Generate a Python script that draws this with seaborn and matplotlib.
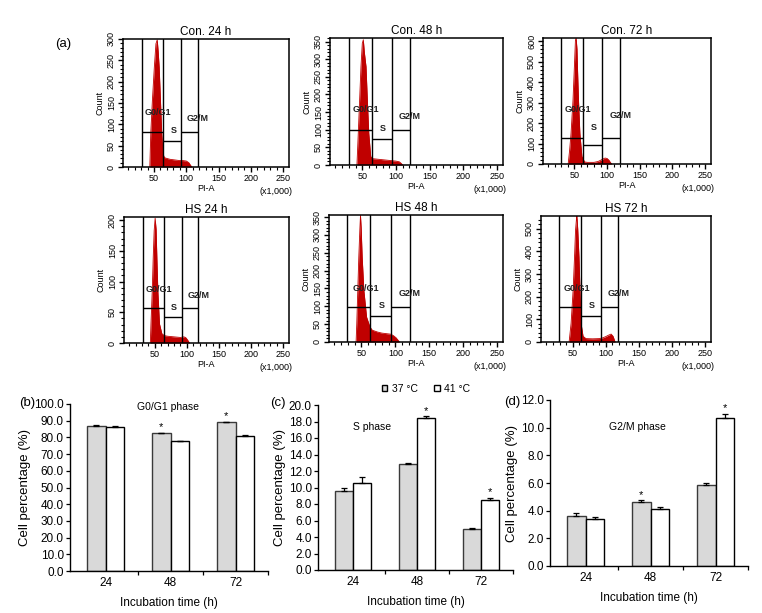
import numpy as np
import pandas as pd
import matplotlib
matplotlib.use("Agg")
import matplotlib.pyplot as plt
from matplotlib.ticker import MultipleLocator, FormatStrFormatter
from matplotlib.patches import Patch
import seaborn as sns

# ---------------- histogram data (PI-A x1,000 vs count) ----------------
hist_titles = ["Con. 24 h", "Con. 48 h", "Con. 72 h", "HS 24 h", "HS 48 h", "HS 72 h"]

pi_con24 = [43.5, 45, 47.5, 50.5, 53, 55, 56.5, 58, 60, 62, 64, 66, 70, 75, 80, 85, 90, 95, 100, 104, 107, 109]
cnt_con24 = [0, 80, 156, 234, 289, 298, 270, 234, 156, 78, 31, 22, 20, 18, 17, 16, 15, 15, 14, 10, 3, 0]

pi_con48 = [42, 44, 46, 48, 50, 51.5, 53, 55.5, 57.5, 59.6, 62.5, 65, 70, 80, 90, 100, 105, 108, 110]
cnt_con48 = [0, 90, 184, 279, 345, 355, 320, 279, 184, 90, 24, 18, 17, 15, 13, 11, 9, 4, 0]

pi_con72 = [40.5, 42.8, 44.9, 47.9, 50, 51.6, 52.7, 54, 54.7, 56.3, 58.4, 61.5, 65.6, 70, 80, 86, 90, 94, 97, 100, 103, 105, 107]
cnt_con72 = [0, 70, 150, 312, 474, 604, 615, 560, 474, 312, 150, 37, 10, 8, 8, 12, 18, 25, 29, 27, 18, 8, 0]

pi_hs24 = [43, 44, 46, 47.5, 49, 50.5, 52, 53.2, 54.7, 57.3, 61, 65, 70, 80, 90, 95, 98, 101, 104]
cnt_hs24 = [0, 31, 85, 139, 183, 203, 185, 139, 85, 31, 15, 12, 11, 10, 9, 10, 9, 5, 0]

pi_hs48 = [42, 43, 44.5, 46, 47.5, 48.5, 49.5, 51, 53.5, 57.5, 62.5, 66, 73.5, 80, 88.5, 93, 97, 101, 104, 106]
cnt_hs48 = [0, 51, 145, 238, 313, 355, 320, 238, 145, 70, 42, 33, 28, 25, 23, 22, 18, 12, 5, 0]

pi_hs72 = [44.5, 47.5, 50.6, 52.7, 54.2, 55.5, 56.3, 57.5, 59.4, 60.9, 62.5, 65.6, 70, 80, 90, 95, 100, 104, 108, 111, 114]
cnt_hs72 = [0, 83, 230, 376, 493, 540, 556, 500, 376, 230, 83, 25, 15, 14, 15, 18, 24, 30, 35, 25, 0]

# gate boundaries (PI-A) and gate levels (count) for G0/G1, S, G2/M
gates_con24 = [31, 64, 92, 118]; levels_con24 = [82, 60, 82]
gates_con48 = [30, 64, 94, 121]; levels_con48 = [99, 73, 99]
gates_con72 = [29, 63, 92, 120]; levels_con72 = [126, 91, 126]
gates_hs24 = [31, 64, 92, 118]; levels_hs24 = [57, 42, 57]
gates_hs48 = [29, 63, 94, 121]; levels_hs48 = [98, 73, 98]
gates_hs72 = [29, 63, 92, 119]; levels_hs72 = [156, 114, 154]
gate_names = ["G0/G1", "S", "G2/M"]

# ---------------- bar chart data ----------------
times = ["24", "48", "72"]
temps = ["37 °C", "41 °C"]

g0g1_37 = [87.0, 82.6, 89.0]; g0g1_37_err = [0.3, 0.2, 0.2]
g0g1_41 = [86.4, 77.8, 81.0]; g0g1_41_err = [0.3, 0.2, 0.2]

s_37 = [9.63, 12.86, 5.02]; s_37_err = [0.37, 0.08, 0.08]
s_41 = [10.60, 18.37, 8.53]; s_41_err = [0.65, 0.25, 0.20]

g2m_37 = [3.63, 4.64, 5.87]; g2m_37_err = [0.17, 0.10, 0.10]
g2m_41 = [3.39, 4.11, 10.70]; g2m_41_err = [0.14, 0.17, 0.29]

star_g0g1 = [("48", "37 °C"), ("72", "37 °C")]
star_s = [("48", "41 °C"), ("72", "41 °C")]
star_g2m = [("48", "37 °C"), ("72", "41 °C")]

# ---------------- style ----------------
sns.set_theme(style="ticks")
plt.rcParams["font.family"] = ["Liberation Sans", "DejaVu Sans"]
plt.rcParams["axes.edgecolor"] = "black"
plt.rcParams["xtick.color"] = "black"
plt.rcParams["ytick.color"] = "black"
plt.rcParams["text.color"] = "black"
plt.rcParams["axes.labelcolor"] = "black"

RED = "#c00000"
GRAY = "#d9d9d9"

W, H = 762, 613
fig = plt.figure(figsize=(W / 100, H / 100), dpi=100)
fig.patch.set_facecolor("white")


def add_ax(l, t, r, b):
    return fig.add_axes([l / W, 1 - b / H, (r - l) / W, (b - t) / H])


def draw_hist(ax, title, pi, cnt, gates, levels, ytop, ystep, yminor, lab_y):
    df = pd.DataFrame({"PI-A": pi, "Count": cnt})
    sns.lineplot(data=df, x="PI-A", y="Count", ax=ax, color=RED, lw=0.6)
    ax.fill_between(df["PI-A"], df["Count"], color=RED, lw=0)
    for g in gates:
        ax.axvline(g, color="black", lw=1.0)
    for a, b, lev in zip(gates[:-1], gates[1:], levels):
        ax.hlines(lev, a, b, color="black", lw=1.0)
    lab_x = [56, (gates[1] + gates[2]) / 2 + 2, gates[3]]
    for name, x, y in zip(gate_names, lab_x, lab_y):
        ax.text(x, y, name, ha="center", va="center", fontsize=6.5,
                fontweight="bold", color="#222222")
    ax.set_xlim(2, 259)
    ax.set_ylim(0, ytop)
    ax.xaxis.set_major_locator(MultipleLocator(50))
    ax.set_xticks([50, 100, 150, 200, 250])
    ax.xaxis.set_minor_locator(MultipleLocator(10))
    ax.yaxis.set_major_locator(MultipleLocator(ystep))
    ax.yaxis.set_minor_locator(MultipleLocator(yminor))
    ax.tick_params(axis="both", which="major", direction="out", length=3.5,
                   width=1.0, labelsize=6.5, pad=1.5)
    ax.tick_params(axis="both", which="minor", direction="out", length=2.2, width=0.8)
    for lbl in ax.get_yticklabels():
        lbl.set_rotation(90)
        lbl.set_va("center")
    for sp in ax.spines.values():
        sp.set_visible(True)
        sp.set_linewidth(1.1)
    ax.set_xlabel("PI-A", fontsize=6.5, labelpad=1)
    ax.set_ylabel("Count", fontsize=6.5, labelpad=2)
    ax.set_title(title, fontsize=8.5, pad=3)
    ax.annotate("(x1,000)", xy=(1.02, 0), xycoords="axes fraction",
                xytext=(0, -14.5), textcoords="offset points",
                ha="right", va="top", fontsize=6.5)


hist_boxes = [
    (123, 39, 289, 167), (330, 38, 503, 165), (543, 38, 711, 164),
    (124, 217, 289, 343), (329, 215, 503, 342), (541, 216, 711, 342),
]
hist_specs = [
    (pi_con24, cnt_con24, gates_con24, levels_con24, 300, 50, 10, [127, 86, 113]),
    (pi_con48, cnt_con48, gates_con48, levels_con48, 360, 50, 10, [156, 104, 137]),
    (pi_con72, cnt_con72, gates_con72, levels_con72, 615, 100, 20, [264, 178, 235]),
    (pi_hs24, cnt_hs24, gates_hs24, levels_hs24, 205, 50, 10, [87, 58, 77]),
    (pi_hs48, cnt_hs48, gates_hs48, levels_hs48, 356, 50, 10, [151, 103, 135]),
    (pi_hs72, cnt_hs72, gates_hs72, levels_hs72, 556, 100, 20, [235, 159, 212]),
]
for box, title, spec in zip(hist_boxes, hist_titles, hist_specs):
    ax = add_ax(*box)
    draw_hist(ax, title, *spec)

fig.text(63 / W, 1 - 44 / H, "(a)", fontsize=9.5, ha="center", va="center")


def draw_bars(ax, v37, e37, v41, e41, ymax, ystep, phase, phase_pos, stars):
    df = pd.DataFrame({
        "time": times * 2,
        "temp": [temps[0]] * 3 + [temps[1]] * 3,
        "value": v37 + v41,
        "err": e37 + e41,
    })
    sns.barplot(data=df, x="time", y="value", hue="temp", order=times,
                hue_order=temps, palette=[GRAY, "white"], saturation=1,
                edgecolor="black", linewidth=1.0, width=0.57, errorbar=None,
                legend=False, ax=ax)
    for cont, temp in zip(ax.containers, temps):
        for bar, t in zip(cont, times):
            if temp == temps[0]:
                bar.set_edgecolor("#3a3a3a")
            row = df[(df["time"] == t) & (df["temp"] == temp)].iloc[0]
            xc = bar.get_x() + bar.get_width() / 2
            ax.errorbar([xc], [row["value"]], yerr=[[0], [row["err"]]], fmt="none",
                        ecolor="black", elinewidth=0.9, capsize=2.5, capthick=0.9)
            if (t, temp) in stars:
                ax.annotate("*", xy=(xc, row["value"] + row["err"]),
                            xytext=(0, 0.5), textcoords="offset points",
                            ha="center", va="bottom", fontsize=8)
    ax.set_xlim(-0.55, 2.5)
    ax.set_ylim(0, ymax)
    ax.yaxis.set_major_locator(MultipleLocator(ystep))
    ax.yaxis.set_major_formatter(FormatStrFormatter("%.1f"))
    ax.set_xticks([0, 1, 2])
    ax.set_xticklabels(times)
    ax.set_xticks([0.5, 1.5, 2.5], minor=True)
    ax.tick_params(axis="x", which="major", length=0, labelsize=8.5, pad=4)
    ax.tick_params(axis="x", which="minor", length=3, width=0.9, direction="out")
    ax.tick_params(axis="y", which="major", length=3, width=0.9, direction="out",
                   labelsize=8.5, pad=1.5)
    sns.despine(ax=ax)
    for sp in ("left", "bottom"):
        ax.spines[sp].set_linewidth(1.0)
    ax.set_xlabel("Incubation time (h)", fontsize=8.5, labelpad=6)
    ax.set_ylabel("Cell percentage (%)", fontsize=9.5, labelpad=2)
    ax.text(phase_pos[0], phase_pos[1], phase, transform=ax.transAxes,
            ha="center", va="center", fontsize=7.5)


axb = add_ax(70, 404, 268, 571)
draw_bars(axb, g0g1_37, g0g1_37_err, g0g1_41, g0g1_41_err, 100, 10,
          "G0/G1 phase", (0.495, 0.985), star_g0g1)
axc = add_ax(318, 405, 513, 570)
draw_bars(axc, s_37, s_37_err, s_41, s_41_err, 20, 2,
          "S phase", (0.277, 0.867), star_s)
axd = add_ax(550, 400, 748, 566)
draw_bars(axd, g2m_37, g2m_37_err, g2m_41, g2m_41_err, 12, 2,
          "G2/M phase", (0.444, 0.837), star_g2m)

fig.text(27 / W, 1 - 403 / H, "(b)", fontsize=9.5, ha="center", va="center")
fig.text(278 / W, 1 - 403 / H, "(c)", fontsize=9.5, ha="center", va="center")
fig.text(512 / W, 1 - 402 / H, "(d)", fontsize=9.5, ha="center", va="center")

handles = [Patch(facecolor=GRAY, edgecolor="black", label=temps[0]),
           Patch(facecolor="white", edgecolor="black", label=temps[1])]
fig.legend(handles=handles, loc="center", bbox_to_anchor=(426 / W, 1 - 389 / H),
           ncol=2, frameon=False, fontsize=7.5, handlelength=0.55,
           handleheight=0.55, columnspacing=1.6, handletextpad=0.4)

fig.savefig("out.png", dpi=100, facecolor="white")
